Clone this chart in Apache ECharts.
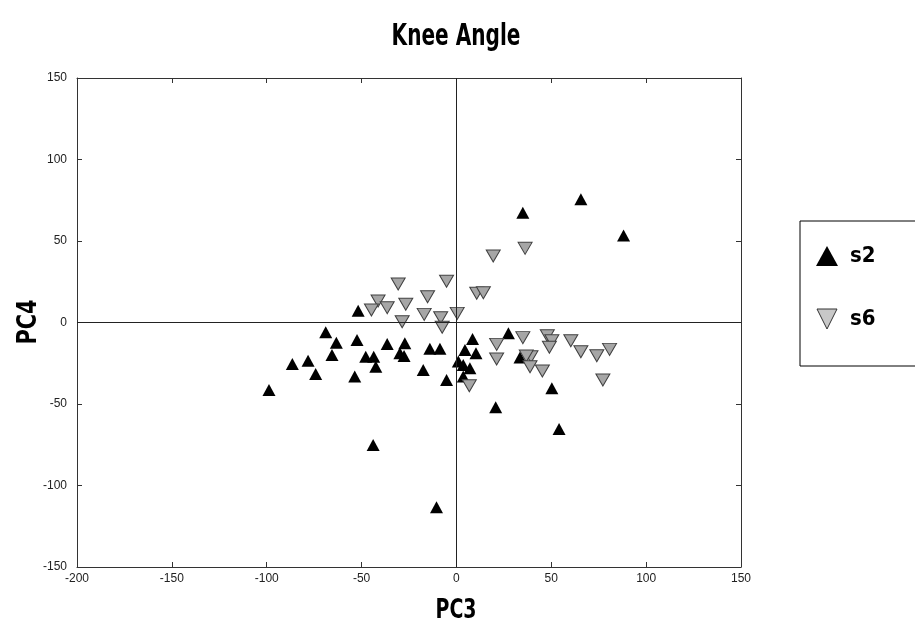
<!DOCTYPE html>
<html>
<head>
<meta charset="utf-8">
<script src="https://cdn.jsdelivr.net/npm/echarts@6/dist/echarts.min.js"></script>
<style>
html,body{margin:0;padding:0;background:#fff;}
#chart{width:915px;height:639px;}
</style>
</head>
<body>
<div id="chart"></div>
<script>
const titleText = 'Knee Angle';
const xName = 'PC3';
const yName = 'PC4';
const seriesNames = ['s2', 's6'];

const s2 = [
  [-51.8, 7.2], [-68.9, -6], [-63.3, -12.4], [-52.4, -10.7], [-65.6, -19.9],
  [-86.5, -25.5], [-78.2, -23.4], [-74.2, -31.6], [-53.6, -33.2], [-98.8, -41.4],
  [-36.5, -13.2], [-27.2, -12.8], [-29.8, -18.9], [-27.6, -20.6], [-47.8, -21],
  [-43.6, -21], [-42.5, -27.1], [-14, -16.1], [-8.7, -16.1], [-17.5, -29.1],
  [-5.2, -35.3], [1, -24], [27.4, -6.6], [33.5, -21.4], [8.5, -10.1],
  [4.5, -16.9], [10.3, -18.9], [3.6, -26.1], [7.1, -28.1], [3.6, -33.2],
  [50.3, -40.4], [-43.9, -75.2], [-10.5, -113.4], [20.7, -52], [54.1, -65.3],
  [65.6, 75.6], [88.1, 53.3], [35, 67.4]
];

const s6 = [
  [-30.7, 23.6], [-5.2, 25.3], [-15.2, 15.8], [-41.3, 13.2], [-44.8, 7.7],
  [-36.5, 9.1], [-26.7, 11.2], [-17, 5], [-8.3, 2.9], [0.4, 5.6],
  [-28.6, 0.5], [-7.5, -2.9], [21.2, -13.4], [35, -9.3], [21.2, -22.4],
  [47.9, -8.1], [50.3, -11.2], [49, -15.2], [39.3, -21], [36.8, -20.5],
  [38.8, -27.1], [45.3, -29.8], [6.8, -38.8], [60.3, -11.2], [65.6, -17.9],
  [74, -20.4], [80.7, -16.5], [77.2, -35.3], [36.2, 45.5], [19.4, 40.8],
  [10.7, 17.9], [14.2, 18.3]
];

const xRange = [-200, 150];
const yRange = [-150, 150];
const tickStep = 50;

const narrow = "'Liberation Sans Narrow', 'DejaVu Sans Condensed', 'Liberation Sans', sans-serif";
const tickFont = "'Liberation Sans', Arial, sans-serif";

const chart = echarts.init(document.getElementById('chart'));

const baseAxis = {
  scale: false,
  interval: tickStep,
  splitLine: { show: false },
  axisLine: { show: true, onZero: false, lineStyle: { color: '#333', width: 1 } },
  axisTick: { show: true, inside: true, length: 5, lineStyle: { color: '#333' } },
};

chart.setOption({
  backgroundColor: '#fff',
  animation: false,
  graphic: [
    {
      type: 'text', x: 456, y: 37, scaleX: 0.72, silent: true,
      style: { text: titleText, font: "bold 31px " + narrow, fill: '#000', textAlign: 'center', textVerticalAlign: 'middle' }
    },
    {
      type: 'text', x: 456, y: 611, scaleX: 0.78, silent: true,
      style: { text: xName, font: "bold 27px " + narrow, fill: '#000', textAlign: 'center', textVerticalAlign: 'middle' }
    },
    {
      type: 'text', x: 29, y: 322, rotation: Math.PI / 2, scaleX: 0.86, silent: true,
      style: { text: yName, font: "bold 27px " + narrow, fill: '#000', textAlign: 'center', textVerticalAlign: 'middle' }
    }
  ],
  grid: { left: 77, right: 174, top: 78, bottom: 72, show: false },
  legend: {
    orient: 'vertical',
    left: 800, top: 221,
    padding: [24, 62, 36, 16],
    itemGap: 41,
    itemWidth: 22, itemHeight: 20,
    borderColor: '#000', borderWidth: 1,
    textStyle: { fontFamily: narrow, fontWeight: 'bold', fontSize: 22, color: '#000', padding: [0, 0, 0, 7] },
    data: [
      { name: seriesNames[0], icon: 'triangle', itemStyle: { color: '#000', borderWidth: 0 } },
      { name: seriesNames[1], icon: 'path://M0,0L10,0L5,10Z', itemStyle: { color: '#c8c8c8', borderColor: '#333', borderWidth: 1 } }
    ]
  },
  xAxis: [
    Object.assign({}, baseAxis, {
      type: 'value', min: xRange[0], max: xRange[1], position: 'bottom',
      axisLabel: { margin: 6, fontFamily: tickFont, fontSize: 12, color: '#222' }
    }),
    Object.assign({}, baseAxis, {
      type: 'value', min: xRange[0], max: xRange[1], position: 'top',
      axisLabel: { show: false }
    })
  ],
  yAxis: [
    Object.assign({}, baseAxis, {
      type: 'value', min: yRange[0], max: yRange[1], position: 'left',
      axisLabel: { margin: 10, fontFamily: tickFont, fontSize: 12, color: '#222' }
    }),
    Object.assign({}, baseAxis, {
      type: 'value', min: yRange[0], max: yRange[1], position: 'right',
      axisLabel: { show: false }
    })
  ],
  series: [
    {
      name: 'zero', type: 'line', data: [], z: 1, silent: true,
      markLine: {
        silent: true, symbol: 'none', animation: false,
        label: { show: false },
        lineStyle: { color: '#222', width: 1, type: 'solid' },
        data: [{ xAxis: 0 }, { yAxis: 0 }]
      }
    },
    {
      name: seriesNames[0], type: 'scatter', data: s2, z: 3,
      symbol: 'triangle', symbolSize: [13, 12],
      itemStyle: { color: '#000', opacity: 1 }
    },
    {
      name: seriesNames[1], type: 'scatter', data: s6, z: 4,
      symbol: 'triangle', symbolRotate: 180, symbolSize: [14, 12],
      itemStyle: { color: '#a6a6a6', borderColor: '#404040', borderWidth: 1, opacity: 1 }
    }
  ]
});
</script>
</body>
</html>
